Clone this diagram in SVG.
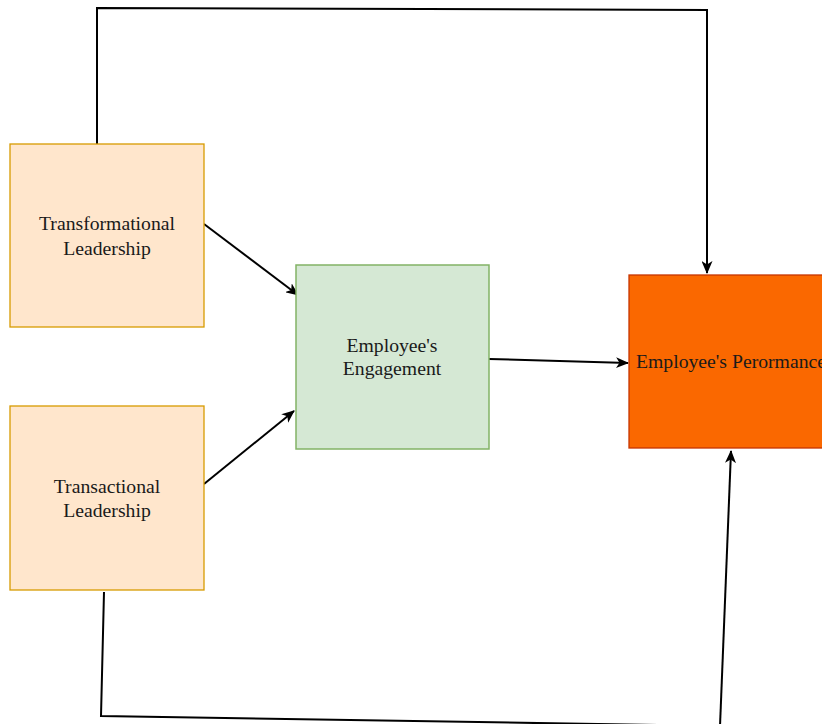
<svg xmlns="http://www.w3.org/2000/svg" width="822" height="724" viewBox="0 0 822 724">
  <style>
    .lbl { font-family: "Liberation Serif", "Times New Roman", serif; font-size: 19.7px; fill: #1a1a1a; }
    .mid { text-anchor: middle; }
    .lead { fill: #ffe6cc; stroke: #d79b00; stroke-width: 1.3; }
    .eng { fill: #d5e8d4; stroke: #82b366; stroke-width: 1.5; }
    .perf { fill: #fa6800; stroke: #c73500; stroke-width: 1.3; }
    .edge { fill: none; stroke: #000; stroke-width: 2; }
  </style>
  <defs>
    <marker id="arrow" viewBox="0 0 13 11" refX="12" refY="5.5" markerWidth="13" markerHeight="11" markerUnits="userSpaceOnUse" orient="auto">
      <path d="M0,0 L13,5.5 L0,11 L3.5,5.5 Z" fill="#000"/>
    </marker>
  </defs>
  <rect width="822" height="724" fill="#fff"/>

  <g id="connectors">
    <path class="edge" d="M97,144 L97,8 L707,10 L707,273" marker-end="url(#arrow)"/>
    <path class="edge" d="M204,224 L298,295" marker-end="url(#arrow)"/>
    <path class="edge" d="M204,484 L294,411" marker-end="url(#arrow)"/>
    <path class="edge" d="M489,359 L628,363" marker-end="url(#arrow)"/>
    <path class="edge" d="M104,592 L101,716 L720,726" stroke-width="1.6"/>
    <path class="edge" d="M720,726 L731,451" stroke-width="1.8" marker-end="url(#arrow)"/>
  </g>

  <g id="transformational">
    <rect class="lead" x="10" y="144" width="194" height="183"/>
    <text class="lbl mid" x="107" y="230">Transformational</text>
    <text class="lbl mid" x="107" y="255">Leadership</text>
  </g>

  <g id="transactional">
    <rect class="lead" x="10" y="406" width="194" height="184"/>
    <text class="lbl mid" x="107" y="493">Transactional</text>
    <text class="lbl mid" x="107" y="517">Leadership</text>
  </g>

  <g id="engagement">
    <rect class="eng" x="296" y="265" width="193" height="184"/>
    <text class="lbl mid" x="392" y="352">Employee's</text>
    <text class="lbl mid" x="392" y="375">Engagement</text>
  </g>

  <g id="performance">
    <rect class="perf" x="629" y="275" width="200" height="173"/>
    <text class="lbl" x="636" y="368">Employee's Perormance</text>
  </g>
</svg>
